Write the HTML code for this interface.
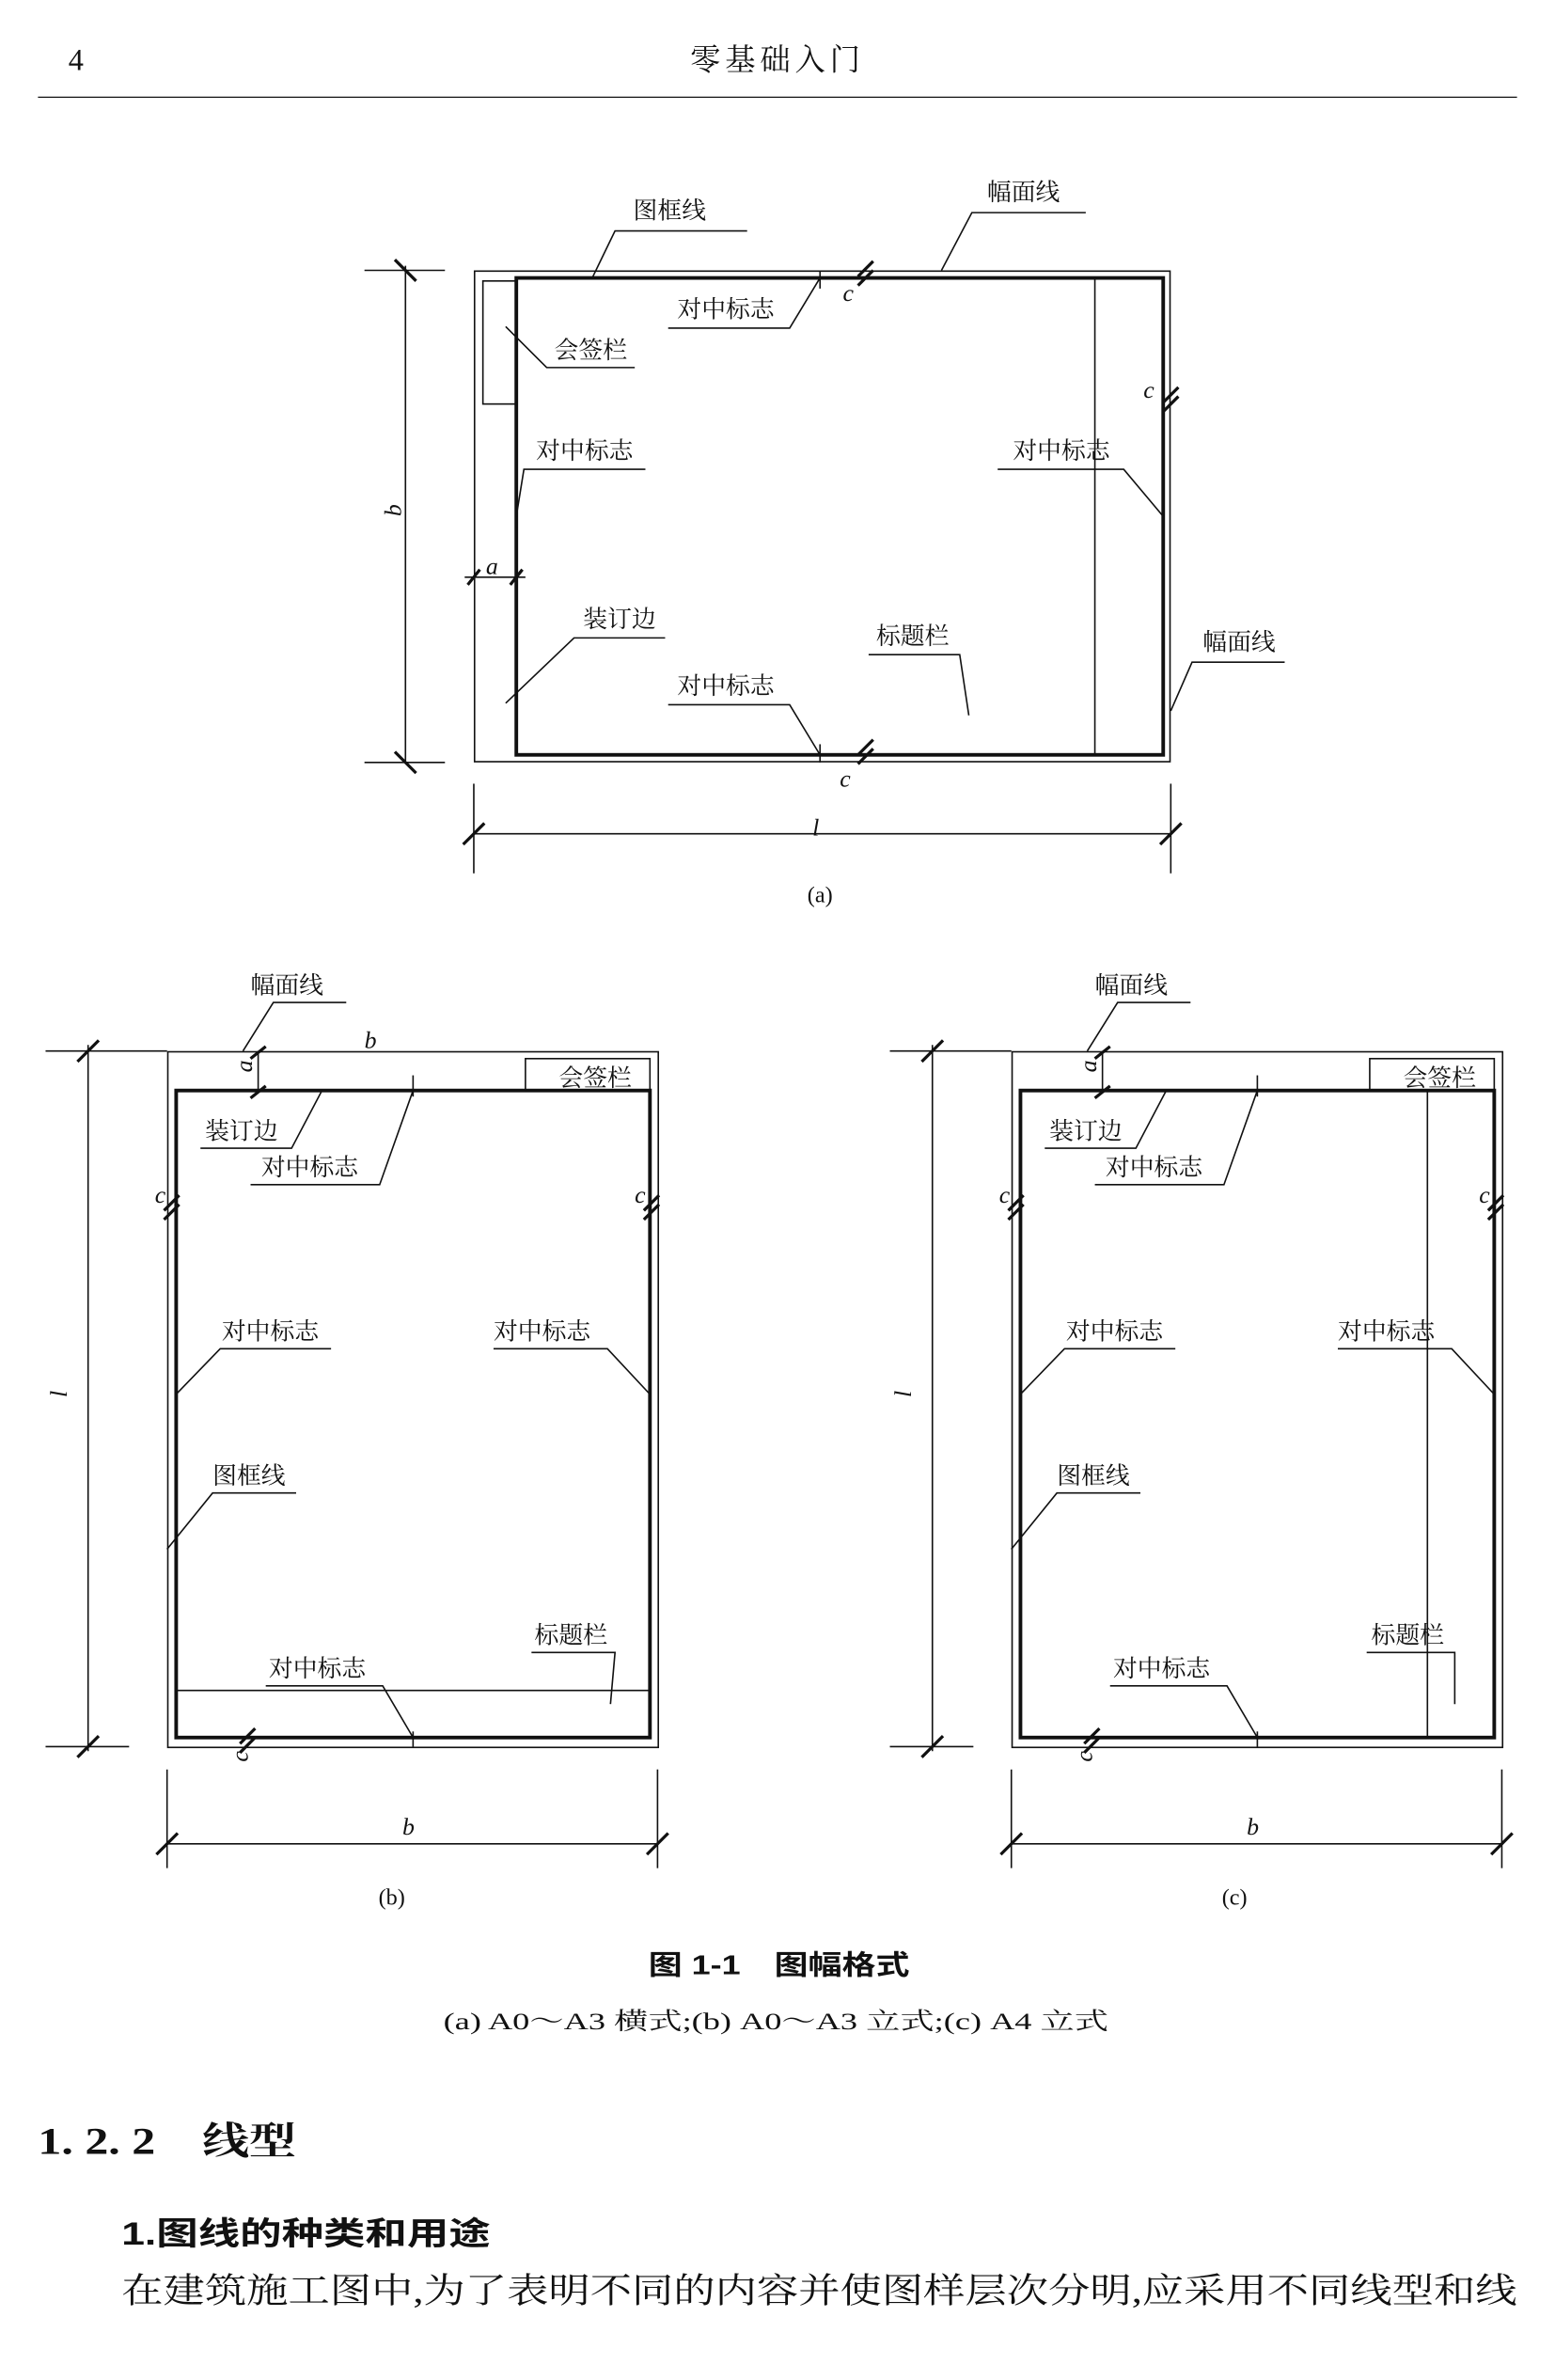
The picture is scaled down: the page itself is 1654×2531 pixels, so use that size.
<!DOCTYPE html>
<html><head><meta charset="utf-8"><style>
html,body{margin:0;padding:0;background:#fff}
svg{display:block}
text{font-family:"Liberation Serif","Noto Serif CJK SC","Noto Sans CJK SC",serif;fill:#111}
.s{font-family:"Liberation Sans","Noto Sans CJK SC",sans-serif}
</style></head><body>
<svg width="1654" height="2531" viewBox="0 0 1024 1567" xmlns="http://www.w3.org/2000/svg">
<g stroke="#111" fill="none" stroke-width="1">
<line x1="25" y1="64" x2="999" y2="64" stroke-width="0.8"/>
<rect x="312.5" y="178.5" width="458" height="323"/>
<rect x="340" y="183" width="426" height="314" stroke-width="2.4"/>
<line x1="721" y1="183" x2="721" y2="497"/>
<rect x="318" y="185" width="22" height="81"/>
<line x1="267" y1="175" x2="267" y2="502"/>
<line x1="240" y1="178" x2="293" y2="178"/><line x1="240" y1="502" x2="293" y2="502"/>
<line x1="260" y1="171" x2="274" y2="185" stroke-width="2"/><line x1="260" y1="495" x2="274" y2="509" stroke-width="2"/>
<line x1="312" y1="516" x2="312" y2="575"/><line x1="771" y1="516" x2="771" y2="575"/>
<line x1="312" y1="549" x2="771" y2="549"/>
<line x1="305" y1="556" x2="319" y2="542" stroke-width="2"/><line x1="764" y1="556" x2="778" y2="542" stroke-width="2"/>
<line x1="306" y1="380" x2="346" y2="380"/>
<line x1="308" y1="385" x2="316" y2="375" stroke-width="2"/><line x1="336" y1="385" x2="344" y2="375" stroke-width="2"/>
<line x1="540" y1="178" x2="540" y2="190"/><line x1="540" y1="490" x2="540" y2="502"/>
<line x1="340" y1="333" x2="340" y2="347"/><line x1="766" y1="333" x2="766" y2="347"/>
<line x1="565" y1="182" x2="575" y2="172" stroke-width="2"/><line x1="565" y1="188" x2="575" y2="178" stroke-width="2"/>
<line x1="565" y1="497" x2="575" y2="487" stroke-width="2"/><line x1="565" y1="503" x2="575" y2="493" stroke-width="2"/>
<line x1="766" y1="265" x2="776" y2="255" stroke-width="2"/><line x1="766" y1="271" x2="776" y2="261" stroke-width="2"/>
<polyline points="492,152 405,152 390,183"/>
<polyline points="715,140 640,140 620,178"/>
<polyline points="440,216 520,216 540,183"/>
<polyline points="418,242 360,242 333,215"/>
<polyline points="425,309 345,309 340,340"/>
<polyline points="657,309 740,309 766,340"/>
<polyline points="438,420 378,420 333,463"/>
<polyline points="572,431 632,431 638,471"/>
<polyline points="440,464 520,464 540,497"/>
<polyline points="846,436 785,436 771,468"/>
<g id="b">
<rect x="110.5" y="692.5" width="323" height="458"/>
<rect x="116" y="718" width="312" height="426" stroke-width="2.4"/>
<rect x="346" y="697" width="82" height="21"/>
<line x1="272" y1="708" x2="272" y2="722"/><line x1="272" y1="1140" x2="272" y2="1150"/>
<line x1="58" y1="688" x2="58" y2="1153"/>
<line x1="30" y1="692" x2="110" y2="692"/><line x1="30" y1="1150" x2="85" y2="1150"/>
<line x1="51" y1="699" x2="65" y2="685" stroke-width="2"/><line x1="51" y1="1157" x2="65" y2="1143" stroke-width="2"/>
<line x1="110" y1="1165" x2="110" y2="1230"/><line x1="433" y1="1165" x2="433" y2="1230"/>
<line x1="110" y1="1214" x2="433" y2="1214"/>
<line x1="103" y1="1221" x2="117" y2="1207" stroke-width="2"/><line x1="426" y1="1221" x2="440" y2="1207" stroke-width="2"/>
<line x1="170" y1="692" x2="170" y2="718"/>
<line x1="165" y1="697" x2="175" y2="689" stroke-width="2"/><line x1="165" y1="723" x2="175" y2="715" stroke-width="2"/>
<line x1="108" y1="797" x2="118" y2="787" stroke-width="2"/><line x1="108" y1="803" x2="118" y2="793" stroke-width="2"/>
<line x1="424" y1="797" x2="434" y2="787" stroke-width="2"/><line x1="424" y1="803" x2="434" y2="793" stroke-width="2"/>
<line x1="158" y1="1148" x2="168" y2="1138" stroke-width="2"/><line x1="158" y1="1154" x2="168" y2="1144" stroke-width="2"/>
<polyline points="228,660 180,660 160,692"/>
<polyline points="132,756 192,756 212,718"/>
<polyline points="165,780 250,780 272,718"/>
<polyline points="218,888 145,888 116,918"/>
<polyline points="325,888 400,888 428,918"/>
<polyline points="195,983 140,983 110,1020"/>
<polyline points="175,1110 252,1110 272,1144"/>
</g>
<line x1="116" y1="1113" x2="428" y2="1113"/>
<polyline points="350,1088 405,1088 402,1122"/>
<use href="#b" x="556"/>
<line x1="940" y1="718" x2="940" y2="1144"/>
<polyline points="900,1088 958,1088 958,1122"/>
</g>
<text x="45" y="46" font-size="20">4</text>
<text x="512" y="46" font-size="20" text-anchor="middle" letter-spacing="3">零基础入门</text>
<g font-size="16" class="s">
<text x="417" y="144">图框线</text>
<text x="650" y="132">幅面线</text>
<text x="446" y="209">对中标志</text>
<text x="365" y="236">会签栏</text>
<text x="353" y="302">对中标志</text>
<text x="667" y="302">对中标志</text>
<text x="384" y="413">装订边</text>
<text x="577" y="424">标题栏</text>
<text x="446" y="457">对中标志</text>
<text x="792" y="428">幅面线</text>
<g id="bt">
<text x="165" y="654">幅面线</text>
<text x="368" y="715">会签栏</text>
<text x="135" y="750">装订边</text>
<text x="172" y="774">对中标志</text>
<text x="146" y="882">对中标志</text>
<text x="325" y="882">对中标志</text>
<text x="140" y="977">图框线</text>
<text x="177" y="1104">对中标志</text>
</g>
<text x="352" y="1082">标题栏</text>
<use href="#bt" x="556"/>
<text x="903" y="1082">标题栏</text>
</g>
<g font-size="16" font-style="italic">
<text x="555" y="198">c</text><text x="753" y="262">c</text><text x="553" y="518">c</text>
<text x="535" y="550">l</text><text x="320" y="378">a</text>
<text x="264" y="340" transform="rotate(-90 264 340)">b</text>
<text x="240" y="690">b</text><text x="102" y="792">c</text><text x="418" y="792">c</text>
<text x="166" y="706" transform="rotate(-90 166 706)">a</text>
<text x="163" y="1160" transform="rotate(-90 163 1160)">c</text>
<text x="44" y="920" transform="rotate(-90 44 920)">l</text>
<text x="265" y="1208">b</text>
<text x="658" y="792">c</text><text x="974" y="792">c</text>
<text x="722" y="706" transform="rotate(-90 722 706)">a</text>
<text x="719" y="1160" transform="rotate(-90 719 1160)">c</text>
<text x="600" y="920" transform="rotate(-90 600 920)">l</text>
<text x="821" y="1208">b</text>
</g>
<g font-size="15" text-anchor="middle">
<text x="540" y="594">(a)</text><text x="258" y="1254">(b)</text><text x="813" y="1254">(c)</text>
</g>
<text x="427" y="1300" font-size="18" font-weight="bold" class="s" textLength="172" lengthAdjust="spacingAndGlyphs">图 1-1　图幅格式</text>
<text x="292" y="1336" font-size="16" textLength="438" lengthAdjust="spacingAndGlyphs">(a) A0～A3 横式;(b) A0～A3 立式;(c) A4 立式</text>
<text x="25" y="1418" font-size="25" font-weight="bold" textLength="170" lengthAdjust="spacingAndGlyphs">1. 2. 2　线型</text>
<text x="80" y="1478" font-size="21" font-weight="bold" class="s" textLength="243" lengthAdjust="spacingAndGlyphs">1.图线的种类和用途</text>
<text x="80" y="1516" font-size="23" textLength="919" lengthAdjust="spacingAndGlyphs">在建筑施工图中,为了表明不同的内容并使图样层次分明,应采用不同线型和线</text>
</svg>
</body></html>
